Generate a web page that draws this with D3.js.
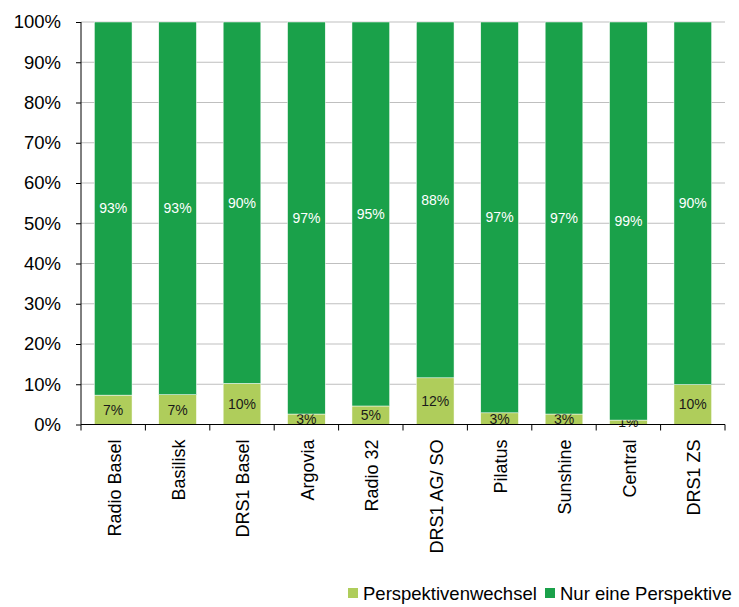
<!DOCTYPE html>
<html><head><meta charset="utf-8">
<script src="https://cdn.jsdelivr.net/npm/d3@7"></script>
<style>body{margin:0;background:#fff}svg{display:block}text{font-family:"Liberation Sans",Arial,sans-serif}</style>
</head><body>
<svg id="c" width="739" height="607"></svg>
<script>
const categories = ["Radio Basel","Basilisk","DRS1 Basel","Argovia","Radio 32","DRS1 AG/ SO","Pilatus","Sunshine","Central","DRS1 ZS"];
const perspektivenwechsel = [7.3, 7.4, 10.2, 2.6, 4.6, 11.6, 2.9, 2.6, 1.1, 9.9];
const nurEinePerspektive = [92.7, 92.6, 89.8, 97.4, 95.4, 88.4, 97.1, 97.4, 98.9, 90.1];
const yTicks = [0,10,20,30,40,50,60,70,80,90,100];
const seriesNames = ["Perspektivenwechsel","Nur eine Perspektive"];
const colors = ["#afcd5b","#1aa14a"];

(function(){
const svg = d3.select("#c");
const pL = 81, pR = 725, pT = 22, pB = 424.5;
const x = d3.scaleBand().domain(categories).range([pL, pR]).paddingInner(0.415).paddingOuter(0.2075);
const y = d3.scaleLinear().domain([0,100]).range([pB, pT]);

svg.append("g").selectAll("line").data(yTicks.filter(d=>d>0)).join("line")
  .attr("x1", pL).attr("x2", pR).attr("y1", d=>y(d)).attr("y2", d=>y(d))
  .attr("stroke", "#bfbfbf").attr("stroke-width", 1);

const rows = categories.map((c,i)=>({cat:c, vals:[perspektivenwechsel[i], nurEinePerspektive[i]]}));
const g = svg.append("g");
rows.forEach(r=>{
  let acc = 0;
  r.vals.forEach((v,k)=>{
    const y0 = acc, y1 = acc + v; acc = y1;
    g.append("rect").attr("x", x(r.cat)).attr("width", x.bandwidth())
      .attr("y", y(y1)).attr("height", y(y0)-y(y1))
      .attr("fill", colors[k]).attr("stroke","#fff").attr("stroke-width",0.5);
    g.append("text").attr("x", x(r.cat)+x.bandwidth()/2).attr("y", (y(y0)+y(y1))/2)
      .attr("dy","0.35em").attr("text-anchor","middle").attr("font-size",14)
      .attr("fill", k===1 ? "#fff" : "#1a1a1a").text(Math.round(v)+"%");
  });
});

const yAxis = d3.axisLeft(y).tickValues(yTicks).tickFormat(d=>d+"%").tickSize(5).tickPadding(15);
const ya = svg.append("g").attr("transform",`translate(${pL},0)`).call(yAxis);
ya.select(".domain").attr("stroke","#000").attr("d",`M0,${pB}V${pT}`);
ya.selectAll(".tick line").attr("stroke","#000");
ya.selectAll("text").attr("font-size",18.5).attr("fill","#000").attr("font-family","Liberation Sans, Arial, sans-serif");

const xa = svg.append("g").attr("transform",`translate(0,${pB})`);
xa.append("line").attr("x1",pL).attr("x2",pR).attr("stroke","#000");
const bounds = d3.range(categories.length+1).map(i=>pL + i*x.step());
xa.selectAll("line.tk").data(bounds).join("line").attr("class","tk")
  .attr("x1",d=>d).attr("x2",d=>d).attr("y1",0).attr("y2",6).attr("stroke","#000");
xa.selectAll("text").data(categories).join("text")
  .attr("transform", d=>`translate(${x(d)+x.bandwidth()/2+1},15) rotate(-90)`)
  .attr("text-anchor","end").attr("dy","0.35em").attr("font-size",18).attr("fill","#000")
  .text(d=>d);

const lg = svg.append("g");
const legX = [348, 545];
seriesNames.forEach((n,i)=>{
  lg.append("rect").attr("x",legX[i]).attr("y",588).attr("width",10).attr("height",10).attr("fill",colors[i]);
  lg.append("text").attr("x",legX[i]+15).attr("y",599.5).attr("font-size",18.5).attr("fill","#000").text(n);
});
})();
</script>
</body></html>
